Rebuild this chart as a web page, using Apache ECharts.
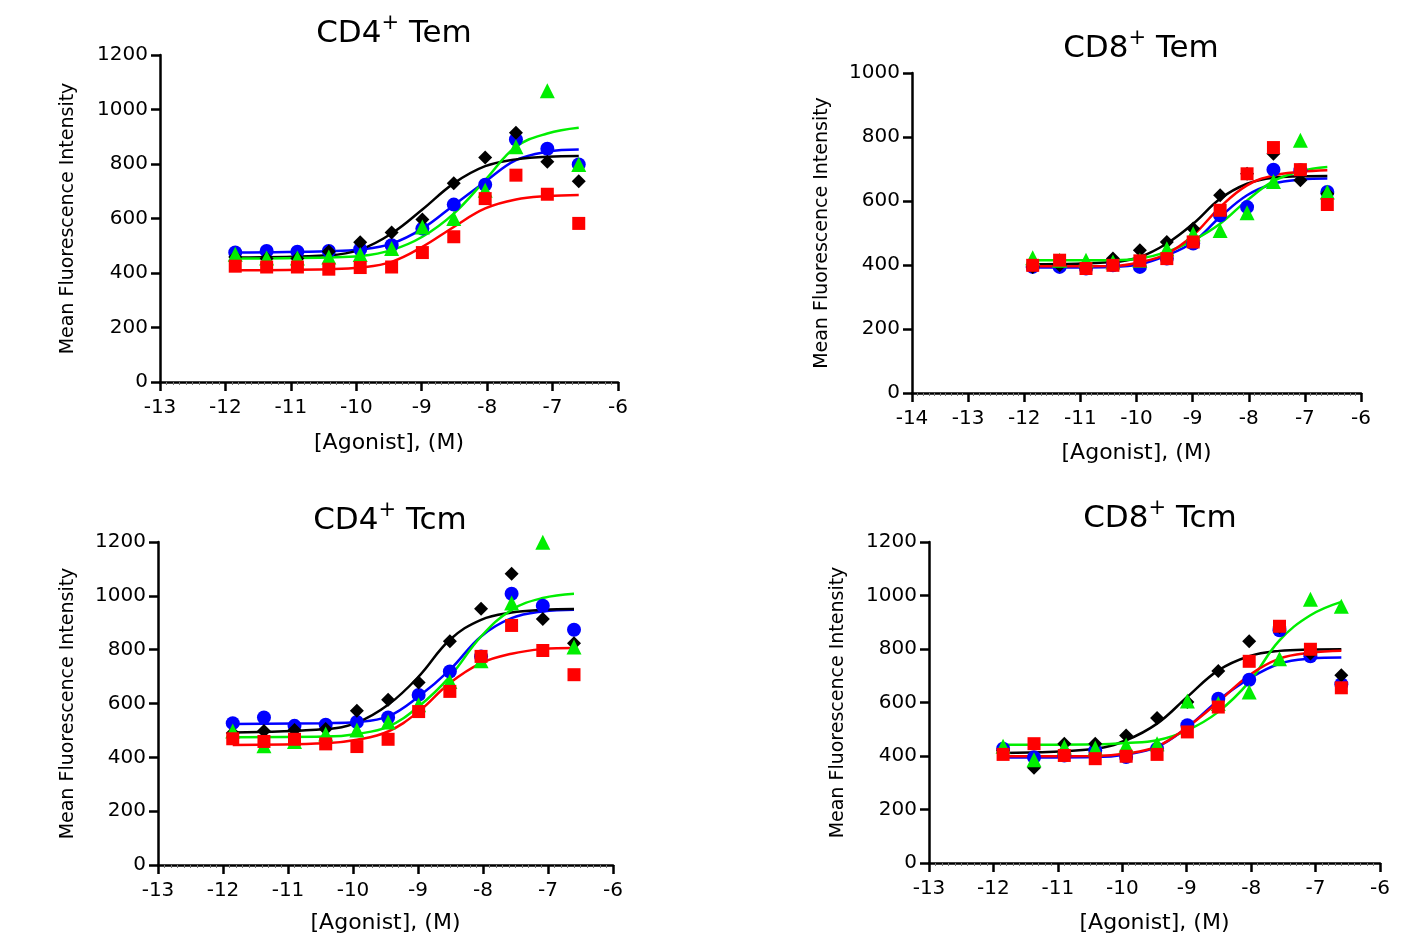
<!DOCTYPE html>
<html>
<head>
<meta charset="utf-8">
<script src="https://cdn.jsdelivr.net/npm/echarts@6/dist/echarts.min.js"></script>
<style>
  html, body { margin: 0; padding: 0; background: #fff; }
  #chart { width: 1413px; height: 937px; }
</style>
</head>
<body>
<div id="chart"></div>
<script>
// log10 agonist concentration for the measured points
var doses = [-11.85, -11.37, -10.9, -10.42, -9.94, -9.46, -8.99, -8.51, -8.03, -7.56, -7.08, -6.6];
var curveDoses = [-11.85, -10.42, -9.94, -9.46, -8.99, -8.51, -8.03, -7.56, -7.08, -6.6];

// CD4+ Tem
var cd4TemBlack = [459, 453, 453, 479, 513, 549, 596, 729, 824, 915, 808, 737];
var cd4TemBlue  = [475, 481, 478, 481, 487, 502, 563, 651, 724, 890, 856, 798];
var cd4TemGreen = [469, 455, 455, 459, 468, 490, 569, 600, 704, 863, 1069, 798];
var cd4TemRed   = [425, 422, 422, 414, 420, 422, 475, 533, 673, 759, 689, 582];
var cd4TemFitBlack = [457, 465, 486, 545, 633, 729, 792, 817, 827, 829];
var cd4TemFitBlue  = [475, 480, 486, 508, 563, 649, 735, 814, 845, 853];
var cd4TemFitGreen = [453, 457, 462, 484, 533, 618, 741, 863, 912, 933];
var cd4TemFitRed   = [410, 414, 420, 441, 496, 569, 637, 670, 682, 686];

// CD8+ Tem
var cd8TemBlack = [394, 399, 392, 420, 446, 472, 514, 618, 685, 748, 665, 623];
var cd8TemBlue  = [394, 394, 389, 399, 394, 420, 467, 555, 581, 698, 696, 628];
var cd8TemGreen = [423, 415, 415, 409, 415, 451, 498, 508, 563, 661, 790, 628];
var cd8TemRed   = [399, 415, 389, 399, 413, 420, 472, 571, 685, 767, 698, 589];
var cd8TemFitBlack = [402, 409, 425, 467, 529, 607, 654, 673, 677, 678];
var cd8TemFitBlue  = [392, 394, 402, 430, 472, 550, 618, 654, 667, 670];
var cd8TemFitGreen = [415, 415, 420, 441, 477, 529, 602, 662, 693, 706];
var cd8TemFitRed   = [396, 397, 409, 435, 493, 581, 649, 680, 691, 696];

// CD4+ Tcm
var cd4TcmBlack = [490, 498, 502, 505, 573, 614, 678, 831, 952, 1082, 914, 824];
var cd4TcmBlue  = [527, 548, 517, 521, 531, 548, 632, 719, 775, 1008, 963, 874];
var cd4TcmGreen = [498, 443, 459, 487, 502, 531, 595, 682, 759, 973, 1199, 810];
var cd4TcmRed   = [469, 459, 467, 450, 440, 467, 570, 645, 775, 890, 797, 707];
var cd4TcmFitBlack = [492, 505, 529, 595, 700, 837, 911, 938, 948, 951];
var cd4TcmFitBlue  = [524, 527, 531, 552, 626, 725, 849, 917, 942, 948];
var cd4TcmFitGreen = [475, 477, 487, 514, 589, 700, 849, 948, 992, 1008];
var cd4TcmFitRed   = [446, 452, 465, 496, 570, 676, 750, 785, 802, 806];

// CD8+ Tcm
var cd8TcmBlack = [421, 356, 446, 446, 477, 542, 602, 718, 829, 882, 783, 702];
var cd8TcmBlue  = [427, 395, 402, 421, 396, 427, 515, 614, 685, 870, 773, 668];
var cd8TcmGreen = [436, 386, 434, 430, 440, 446, 606, 596, 639, 764, 986, 960];
var cd8TcmRed   = [406, 446, 402, 390, 399, 406, 490, 583, 754, 885, 799, 655];
var cd8TcmFitBlack = [411, 427, 459, 521, 621, 720, 773, 793, 798, 799];
var cd8TcmFitBlue  = [394, 396, 406, 434, 508, 608, 689, 745, 764, 768];
var cd8TcmFitGreen = [442, 444, 449, 459, 496, 565, 677, 832, 926, 976];
var cd8TcmFitRed   = [399, 400, 409, 436, 508, 602, 702, 764, 786, 793];

var FONT = 'DejaVu Sans, Liberation Sans, sans-serif';

var panels = [
  { title: 'CD4', cell: 'Tem', grid: {left: 160, top: 55, width: 458, height: 327}, xMin: -13, yMax: 1200,
    titlePos: [389, 8], yGap: 82, xGap: 50,
    pts: [cd4TemBlue, cd4TemBlack, cd4TemGreen, cd4TemRed],
    fits: [cd4TemFitBlue, cd4TemFitBlack, cd4TemFitGreen, cd4TemFitRed] },
  { title: 'CD8', cell: 'Tem', grid: {left: 912, top: 73, width: 449, height: 320}, xMin: -14, yMax: 1000,
    titlePos: [1136, 23], yGap: 80, xGap: 49,
    pts: [cd8TemBlue, cd8TemBlack, cd8TemGreen, cd8TemRed],
    fits: [cd8TemFitBlue, cd8TemFitBlack, cd8TemFitGreen, cd8TemFitRed] },
  { title: 'CD4', cell: 'Tcm', grid: {left: 158, top: 542, width: 455, height: 323}, xMin: -13, yMax: 1200,
    titlePos: [385, 495], yGap: 80, xGap: 47,
    pts: [cd4TcmBlue, cd4TcmBlack, cd4TcmGreen, cd4TcmRed],
    fits: [cd4TcmFitBlue, cd4TcmFitBlack, cd4TcmFitGreen, cd4TcmFitRed] },
  { title: 'CD8', cell: 'Tcm', grid: {left: 929, top: 542, width: 451, height: 321}, xMin: -13, yMax: 1200,
    titlePos: [1155, 493], yGap: 81, xGap: 49,
    pts: [cd8TcmBlue, cd8TcmBlack, cd8TcmGreen, cd8TcmRed],
    fits: [cd8TcmFitBlue, cd8TcmFitBlack, cd8TcmFitGreen, cd8TcmFitRed] }
];

// blue, black, green, red -- drawn in this order (red on top)
var colors = ['#0000ff', '#000000', '#00ee00', '#ff0000'];
var symbols = ['circle', 'diamond', 'triangle', 'rect'];
var symbolSizes = [14, 14, 15, 13];

var option = {
  backgroundColor: '#fff',
  animation: false,
  title: [],
  grid: [],
  xAxis: [],
  yAxis: [],
  series: []
};

panels.forEach(function(p, i) {
  option.title.push({
    text: p.title + '{sup|+} ' + p.cell,
    left: p.titlePos[0],
    top: p.titlePos[1],
    textAlign: 'center',
    textStyle: {
      fontFamily: FONT, fontSize: 31, fontWeight: 'normal', color: '#000',
      rich: { sup: { fontFamily: FONT, fontSize: 21, color: '#000', verticalAlign: 'top', padding: [0, 0, 20, 0] } }
    }
  });
  option.grid.push(Object.assign({ containLabel: false }, p.grid));
  option.xAxis.push({
    gridIndex: i, type: 'value', min: p.xMin, max: -6, interval: 1,
    name: '[Agonist], (M)', nameLocation: 'middle', nameGap: p.xGap,
    nameTextStyle: { fontFamily: FONT, fontSize: 22, color: '#000' },
    axisLine: { onZero: false, lineStyle: { color: '#000', width: 2.5 } },
    axisTick: { length: 9, lineStyle: { color: '#000', width: 2.5 } },
    minorTick: { show: true, splitNumber: 10, length: 3, lineStyle: { color: '#777', width: 1 } },
    axisLabel: { fontFamily: FONT, fontSize: 20, color: '#000', margin: 16 },
    splitLine: { show: false }
  });
  option.yAxis.push({
    gridIndex: i, type: 'value', min: 0, max: p.yMax, interval: 200,
    name: 'Mean Fluorescence Intensity', nameLocation: 'middle', nameGap: p.yGap,
    nameTextStyle: { fontFamily: FONT, fontSize: 19, color: '#000' },
    axisLine: { show: true, onZero: false, lineStyle: { color: '#000', width: 2.5 } },
    axisTick: { show: true, length: 9, lineStyle: { color: '#000', width: 2.5 } },
    axisLabel: { fontFamily: FONT, fontSize: 20, color: '#000', margin: 12,
      formatter: function(v) { return String(v); } },
    splitLine: { show: false }
  });
  p.fits.forEach(function(fit, k) {
    option.series.push({
      type: 'line', xAxisIndex: i, yAxisIndex: i,
      data: curveDoses.map(function(x, j) { return [x, fit[j]]; }),
      smooth: 0.4, showSymbol: false, symbol: 'none', z: 2,
      lineStyle: { color: colors[k], width: 2.5 }
    });
  });
  p.pts.forEach(function(vals, k) {
    option.series.push({
      type: 'scatter', xAxisIndex: i, yAxisIndex: i,
      data: doses.map(function(x, j) { return [x, vals[j]]; }),
      symbol: symbols[k], symbolSize: symbolSizes[k], z: 3 + k,
      itemStyle: { color: colors[k], opacity: 1 }
    });
  });
});

var chart = echarts.init(document.getElementById('chart'));
chart.setOption(option);
</script>
</body>
</html>
